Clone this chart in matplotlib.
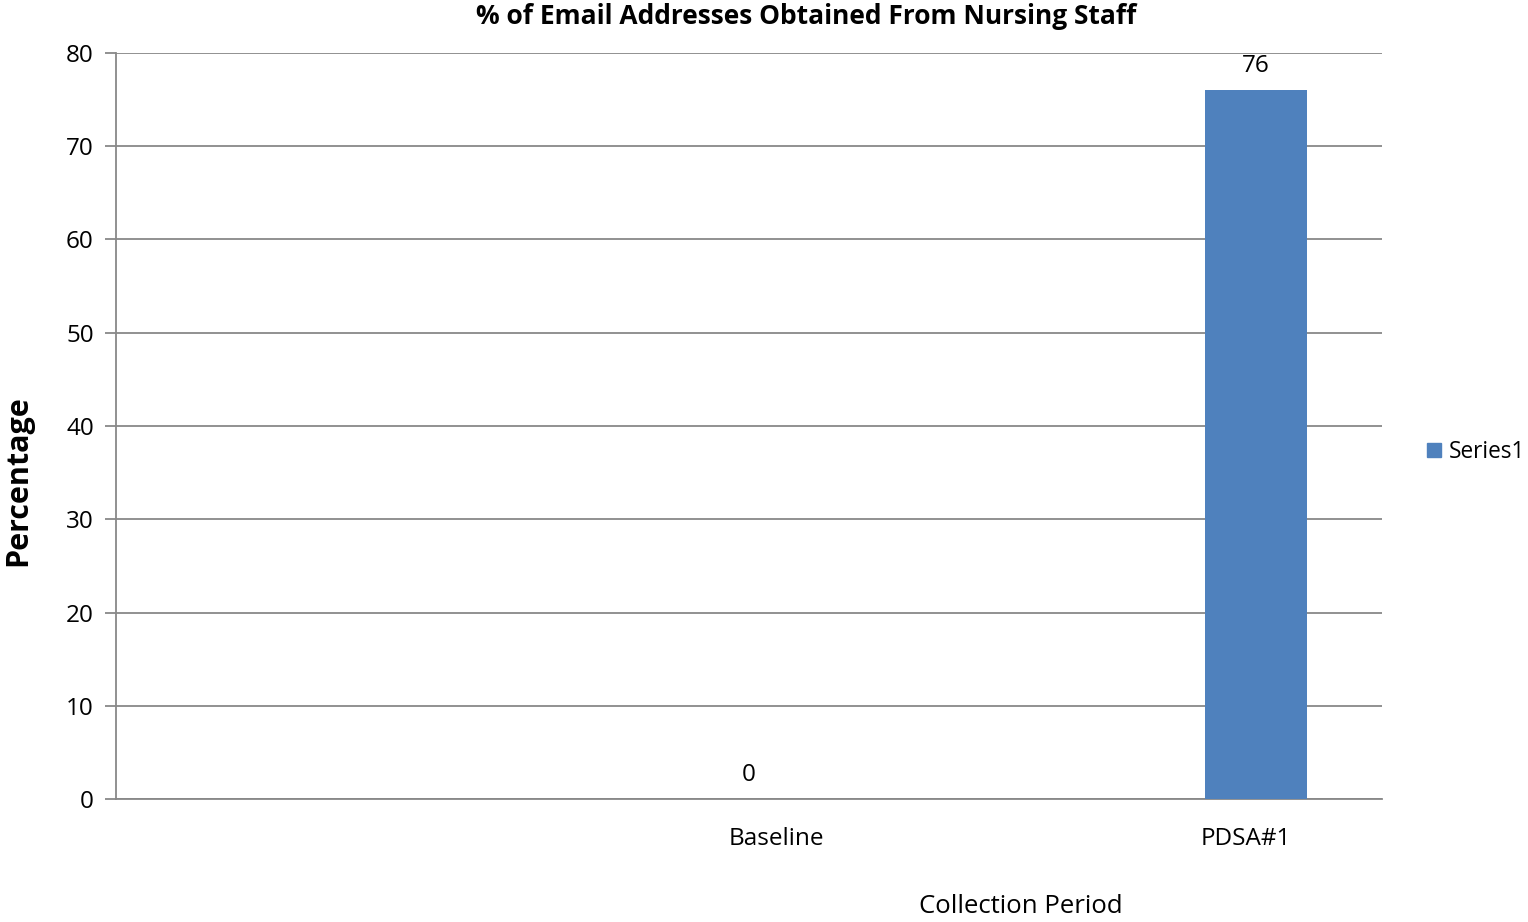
import matplotlib
matplotlib.use("Agg")
import matplotlib.pyplot as plt
from matplotlib.patches import Patch

# Data
categories = ["Baseline", "PDSA#1"]
values = [0, 76]
series_name = "Series1"
y_ticks = [0, 10, 20, 30, 40, 50, 60, 70, 80]

plt.rcParams["font.family"] = ["Open Sans", "DejaVu Sans"]

fig = plt.figure(figsize=(15.28, 9.22), dpi=100)
ax = fig.add_axes([116 / 1528, 1 - 799 / 922, 1266 / 1528, 746 / 922])

bar_color = "#4F81BD"
grid_color = "#888888"

# bar positions within the plot area (fraction of width)
bar_pos = [0.5, 0.9005]
label_pos = [0.522, 0.8926]
bar_width = 0.0806

bars = ax.bar(bar_pos, values, width=bar_width, color=bar_color, zorder=3)
for x, v in zip(bar_pos, values):
    ax.text(x, v + 1.3, f"{v}", ha="center", va="bottom", fontsize=17.5, color="black")

ax.set_xlim(0, 1)
ax.set_ylim(0, 80)
ax.set_yticks(y_ticks)
ax.set_yticklabels([str(t) for t in y_ticks], fontsize=17.5)
ax.set_xticks(label_pos)
ax.set_xticklabels(categories, fontsize=17.5)
ax.tick_params(axis="x", length=0, pad=20)
ax.tick_params(axis="y", length=8, width=1.3, color=grid_color, pad=8)

ax.grid(axis="y", color=grid_color, linewidth=1.3, zorder=0)
for s in ["top", "right"]:
    ax.spines[s].set_visible(False)
for s in ["left", "bottom"]:
    ax.spines[s].set_color(grid_color)
    ax.spines[s].set_linewidth(1.3)

fig.text(806 / 1528, 1 - 17 / 922, "% of Email Addresses Obtained From Nursing Staff",
         ha="center", va="center", fontsize=19, fontweight="bold")
fig.text(18 / 1528, 1 - 481 / 922, "Percentage", rotation=90, ha="center", va="center",
         fontsize=22, fontweight="bold")
fig.text(1021 / 1528, 1 - 906 / 922, "Collection Period", ha="center", va="center", fontsize=18.5)

fig.legend(handles=[Patch(color=bar_color, label=series_name)], loc="center left",
           bbox_to_anchor=(1427 / 1528, 1 - 452 / 922), frameon=False, fontsize=16.3,
           handlelength=0.6, handleheight=0.6, handletextpad=0.35, borderpad=0,
           borderaxespad=0)

fig.savefig("out.png", dpi=100)
